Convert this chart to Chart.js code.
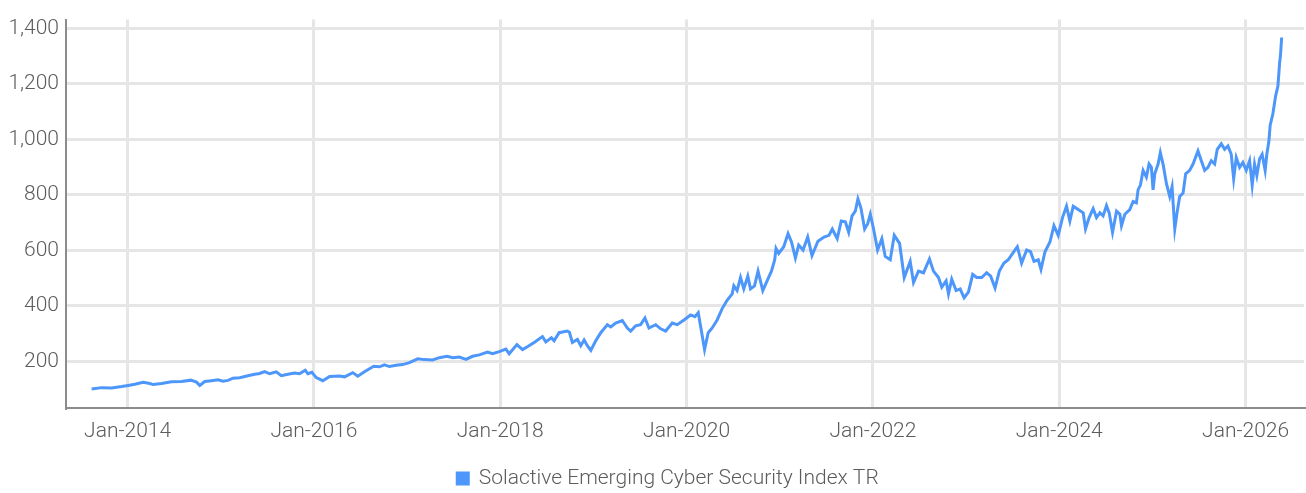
<!DOCTYPE html>
<html>
<head>
<meta charset="utf-8">
<script src="https://cdn.jsdelivr.net/npm/chart.js@4"></script>
<style>
  html, body { margin: 0; padding: 0; background: #ffffff; }
  #wrap { width: 1306px; height: 493px; position: relative; }
</style>
</head>
<body>
<div id="wrap"><canvas id="c" width="1306" height="493"></canvas></div>
<script>
// Dates as decimal years
const dates = [
  2013.614, 2013.721, 2013.829, 2013.936, 2014.006, 2014.078, 2014.167, 2014.239, 2014.274, 2014.364,
  2014.471, 2014.579, 2014.678, 2014.739, 2014.775, 2014.828, 2014.900, 2014.971, 2015.024, 2015.078,
  2015.131, 2015.203, 2015.292, 2015.364, 2015.418, 2015.471, 2015.525, 2015.596, 2015.650, 2015.721,
  2015.793, 2015.846, 2015.907, 2015.935, 2015.978, 2016.025, 2016.096, 2016.168, 2016.275, 2016.329,
  2016.417, 2016.471, 2016.543, 2016.642, 2016.703, 2016.757, 2016.810, 2016.882, 2016.953, 2017.025,
  2017.114, 2017.185, 2017.274, 2017.346, 2017.429, 2017.489, 2017.560, 2017.632, 2017.703, 2017.775,
  2017.864, 2017.917, 2017.989, 2018.061, 2018.096, 2018.179, 2018.239, 2018.300, 2018.364, 2018.453,
  2018.489, 2018.549, 2018.578, 2018.632, 2018.721, 2018.742, 2018.774, 2018.828, 2018.864, 2018.900,
  2018.935, 2018.972, 2019.025, 2019.079, 2019.150, 2019.186, 2019.239, 2019.310, 2019.364, 2019.400,
  2019.454, 2019.507, 2019.553, 2019.596, 2019.668, 2019.722, 2019.775, 2019.846, 2019.900, 2019.972,
  2020.043, 2020.089, 2020.125, 2020.157, 2020.193, 2020.232, 2020.275, 2020.328, 2020.382, 2020.435,
  2020.489, 2020.507, 2020.542, 2020.579, 2020.614, 2020.657, 2020.686, 2020.729, 2020.767, 2020.818,
  2020.864, 2020.911, 2020.946, 2020.960, 2020.989, 2021.043, 2021.089, 2021.126, 2021.168, 2021.203,
  2021.250, 2021.300, 2021.346, 2021.410, 2021.475, 2021.528, 2021.564, 2021.617, 2021.660, 2021.704,
  2021.740, 2021.776, 2021.811, 2021.839, 2021.871, 2021.911, 2021.943, 2021.972, 2022.007, 2022.050,
  2022.096, 2022.132, 2022.186, 2022.229, 2022.286, 2022.336, 2022.400, 2022.436, 2022.489, 2022.543,
  2022.607, 2022.650, 2022.704, 2022.739, 2022.786, 2022.811, 2022.846, 2022.893, 2022.936, 2022.979,
  2023.025, 2023.071, 2023.114, 2023.168, 2023.221, 2023.264, 2023.311, 2023.357, 2023.407, 2023.453,
  2023.500, 2023.550, 2023.596, 2023.650, 2023.692, 2023.729, 2023.775, 2023.804, 2023.847, 2023.900,
  2023.943, 2023.989, 2024.035, 2024.078, 2024.114, 2024.150, 2024.203, 2024.257, 2024.282, 2024.321,
  2024.364, 2024.400, 2024.436, 2024.471, 2024.507, 2024.536, 2024.572, 2024.615, 2024.651, 2024.668,
  2024.704, 2024.757, 2024.793, 2024.828, 2024.846, 2024.871, 2024.900, 2024.935, 2024.964, 2024.989,
  2025.007, 2025.025, 2025.061, 2025.085, 2025.114, 2025.150, 2025.186, 2025.211, 2025.240, 2025.264,
  2025.293, 2025.329, 2025.357, 2025.400, 2025.436, 2025.489, 2025.525, 2025.561, 2025.596, 2025.632,
  2025.668, 2025.696, 2025.739, 2025.775, 2025.811, 2025.846, 2025.872, 2025.900, 2025.936, 2025.971,
  2026.007, 2026.043, 2026.071, 2026.096, 2026.121, 2026.150, 2026.178, 2026.210, 2026.228, 2026.250,
  2026.264, 2026.293, 2026.322, 2026.347, 2026.365, 2026.376, 2026.387
];

const indexValues = [
  100, 105, 104, 109, 113, 117, 124, 120, 116, 120,
  126, 127, 132, 125, 113, 127, 130, 133, 128, 131,
  139, 141, 148, 153, 156, 163, 155, 162, 148, 153,
  158, 155, 168, 155, 160, 141, 130, 145, 147, 144,
  159, 146, 162, 182, 180, 187, 181, 186, 188, 195,
  209, 206, 205, 213, 218, 213, 215, 207, 218, 223,
  233, 227, 235, 244, 227, 260, 242, 254, 268, 289,
  270, 285, 274, 303, 309, 305, 268, 279, 256, 277,
  256, 239, 274, 303, 332, 324, 338, 347, 320, 309,
  328, 332, 356, 320, 332, 317, 309, 338, 332, 349,
  367, 361, 375, 314, 242, 303, 320, 349, 390, 420,
  443, 472, 455, 502, 461, 507, 461, 472, 525, 455,
  490, 525, 566, 607, 589, 613, 660, 630, 572, 619,
  601, 648, 581, 633, 648, 654, 677, 642, 706, 703,
  665, 724, 741, 785, 753, 677, 695, 730, 677, 601,
  642, 578, 566, 654, 625, 502, 560, 484, 525, 519,
  569, 525, 502, 467, 490, 443, 496, 455, 461, 429,
  449, 513, 502, 502, 519, 507, 464, 525, 554, 566,
  589, 613, 554, 601, 595, 560, 566, 531, 595, 630,
  689, 654, 718, 759, 706, 759, 747, 735, 677, 718,
  750, 718, 735, 724, 761, 735, 665, 741, 730, 689,
  730, 747, 776, 771, 818, 835, 888, 864, 911, 899,
  818, 876, 911, 952, 911, 841, 794, 829, 677, 735,
  794, 806, 876, 888, 911, 958, 923, 888, 899, 923,
  911, 964, 984, 964, 976, 946, 858, 934, 899, 917,
  888, 923, 835, 911, 870, 929, 946, 888, 946, 993,
  1051, 1092, 1156, 1192, 1274, 1309, 1367
];

const xTickYears = [2014, 2016, 2018, 2020, 2022, 2024, 2026];
const yTickValues = [200, 400, 600, 800, 1000, 1200, 1400];
const seriesName = 'Solactive Emerging Cyber Security Index TR';

const lineColor = '#4d96fa';
const textColor = '#5c5c5c';
const fontFamily = "Roboto, 'Liberation Sans', sans-serif";

const points = dates.map((d, i) => ({ x: d, y: indexValues[i] }));

const legendShift = {
  id: 'legendShift',
  afterLayout(chart) {
    if (chart.legend) { chart.legend.left += 16; chart.legend.right += 16; }
  }
};

new Chart(document.getElementById('c'), {
  type: 'line',
  data: {
    datasets: [{
      label: seriesName,
      data: points,
      borderColor: lineColor,
      backgroundColor: lineColor,
      borderWidth: 3,
      pointRadius: 0,
      tension: 0,
      fill: false
    }]
  },
  plugins: [legendShift],
  options: {
    responsive: false,
    animation: false,
    layout: { padding: { left: 0, right: 2, top: 8, bottom: -6 } },
    plugins: {
      tooltip: { enabled: false },
      legend: {
        position: 'bottom',
        labels: {
          boxWidth: 11,
          boxHeight: 11,
          padding: 8,
          color: textColor,
          font: { family: fontFamily, size: 21, weight: '300' }
        }
      }
    },
    scales: {
      x: {
        type: 'linear',
        min: 2013.339,
        max: 2026.627,
        afterFit: (s) => { s.height = 52; },
        afterBuildTicks: (s) => { s.ticks = xTickYears.map(v => ({ value: v })); },
        grid: { color: '#e6e6e6', lineWidth: 3, drawTicks: false },
        border: { display: true, color: '#8c8c8c', width: 2 },
        ticks: {
          padding: 11,
          color: textColor,
          maxRotation: 0,
          autoSkip: false,
          font: { family: fontFamily, size: 21, weight: '300' },
          callback: (v) => 'Jan-' + v
        }
      },
      y: {
        type: 'linear',
        min: 31.6,
        max: 1431.6,
        afterFit: (s) => { s.width = 66; },
        afterBuildTicks: (s) => { s.ticks = yTickValues.map(v => ({ value: v })); },
        grid: { color: '#e6e6e6', lineWidth: 3, drawTicks: false },
        border: { display: true, color: '#8c8c8c', width: 2 },
        ticks: {
          padding: 7,
          color: textColor,
          font: { family: fontFamily, size: 21, weight: '300' },
          callback: (v) => v.toLocaleString('en-US')
        }
      }
    }
  }
});
</script>
</body>
</html>
